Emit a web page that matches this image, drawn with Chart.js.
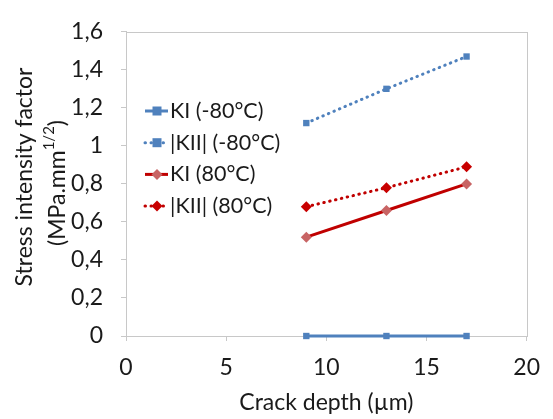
<!DOCTYPE html>
<html>
<head>
<meta charset="utf-8">
<script src="https://cdn.jsdelivr.net/npm/chart.js@4.4.1/dist/chart.umd.min.js"></script>
<style>
  body { margin: 0; background: #fff; }
</style>
</head>
<body>
<canvas id="chart" width="553" height="419"></canvas>
<script>
// crack depth in µm
const depths = [9, 13, 17];
// stress intensity factors, MPa.mm^1/2
const kiCold = [0, 0, 0];
const kiiCold = [1.12, 1.30, 1.47];
const kiHot = [0.52, 0.66, 0.80];
const kiiHot = [0.68, 0.78, 0.89];
const seriesLabels = ["KI (-80°C)", "|KII| (-80°C)", "KI (80°C)", "|KII| (80°C)"];
const xTicks = [0, 5, 10, 15, 20];
const yTicks = [0, 0.2, 0.4, 0.6, 0.8, 1, 1.2, 1.4, 1.6];

const FONT = "Lato";
const TEXT = "#1a1a1a";
const AXIS = "#c8c8c8";

function pts(ys) {
  return depths.map((d, i) => ({ x: d, y: ys[i] }));
}

function comma(v) {
  return String(Number(v.toFixed(1))).replace(".", ",");
}

// draws the gray box round the plot area
const frame = {
  id: "frame",
  beforeDatasetsDraw(chart) {
    const a = chart.chartArea;
    const ctx = chart.ctx;
    ctx.save();
    ctx.strokeStyle = AXIS;
    ctx.lineWidth = 1;
    ctx.strokeRect(Math.round(a.left) + 0.5, Math.round(a.top) + 0.5,
      Math.round(a.right - a.left), Math.round(a.bottom - a.top));
    ctx.restore();
  }
};

function marker(ctx, style, r, x, y, color) {
  ctx.fillStyle = color;
  ctx.beginPath();
  if (style === "rect") {
    ctx.rect(x - r, y - r, 2 * r, 2 * r);
  } else {
    ctx.moveTo(x, y - r);
    ctx.lineTo(x + r, y);
    ctx.lineTo(x, y + r);
    ctx.lineTo(x - r, y);
    ctx.closePath();
  }
  ctx.fill();
}

// legend inside the plot, Excel style
const legendBox = {
  id: "legendBox",
  afterDraw(chart) {
    const ctx = chart.ctx;
    const x0 = 145, y0 = 111, step = 31.7;
    chart.data.datasets.forEach((ds, i) => {
      const y = y0 + i * step;
      ctx.save();
      ctx.strokeStyle = ds.borderColor;
      ctx.lineWidth = ds.borderWidth;
      ctx.lineCap = ds.borderCapStyle || "butt";
      ctx.setLineDash(ds.borderDash || []);
      ctx.beginPath();
      ctx.moveTo(x0, y);
      ctx.lineTo(x0 + 23, y);
      ctx.stroke();
      ctx.setLineDash([]);
      marker(ctx, ds.pointStyle, ds.pointRadius, x0 + 12, y, ds.pointBackgroundColor);
      ctx.fillStyle = TEXT;
      ctx.font = "21.5px " + FONT;
      ctx.textAlign = "left";
      ctx.textBaseline = "middle";
      ctx.fillText(ds.label, x0 + 25, y);
      ctx.restore();
    });
  }
};

// y axis title, two lines with a superscript
const yTitle = {
  id: "yTitle",
  afterDraw(chart) {
    const ctx = chart.ctx;
    ctx.save();
    ctx.fillStyle = TEXT;
    ctx.textBaseline = "middle";
    ctx.font = "23px " + FONT;
    ctx.translate(25, 177);
    ctx.rotate(-Math.PI / 2);
    ctx.textAlign = "center";
    ctx.fillText("Stress intensity factor", 0, 0);
    ctx.restore();

    ctx.save();
    ctx.fillStyle = TEXT;
    ctx.textBaseline = "middle";
    ctx.translate(58, 183);
    ctx.rotate(-Math.PI / 2);
    ctx.textAlign = "left";
    const a = "(MPa.mm", b = "1/2", c = ")";
    ctx.font = "23px " + FONT;
    const wa = ctx.measureText(a).width, wc = ctx.measureText(c).width;
    ctx.font = "15px " + FONT;
    const wb = ctx.measureText(b).width;
    let x = -(wa + wb + wc) / 2;
    ctx.font = "23px " + FONT;
    ctx.fillText(a, x, 0);
    x += wa;
    ctx.font = "15px " + FONT;
    ctx.fillText(b, x, -9);
    x += wb;
    ctx.font = "23px " + FONT;
    ctx.fillText(c, x, 0);
    ctx.restore();
  }
};

new Chart(document.getElementById("chart"), {
  type: "scatter",
  data: {
    datasets: [
      {
        label: seriesLabels[0],
        data: pts(kiCold),
        showLine: true,
        borderColor: "#4f81bd",
        borderWidth: 3,
        pointStyle: "rect",
        pointRadius: 4.5,
        pointBackgroundColor: "#4f81bd",
        pointBorderWidth: 0,
        clip: false
      },
      {
        label: seriesLabels[1],
        data: pts(kiiCold),
        showLine: true,
        borderColor: "#4f81bd",
        borderWidth: 3,
        borderDash: [0.5, 5.5],
        borderCapStyle: "round",
        pointStyle: "rect",
        pointRadius: 4.5,
        pointBackgroundColor: "#4f81bd",
        pointBorderWidth: 0,
        clip: false
      },
      {
        label: seriesLabels[2],
        data: pts(kiHot),
        showLine: true,
        borderColor: "#c00000",
        borderWidth: 3,
        pointStyle: "rectRot",
        pointRadius: 5.5,
        pointBackgroundColor: "#c86464",
        pointBorderWidth: 0,
        clip: false
      },
      {
        label: seriesLabels[3],
        data: pts(kiiHot),
        showLine: true,
        borderColor: "#c00000",
        borderWidth: 3,
        borderDash: [0.5, 5.5],
        borderCapStyle: "round",
        pointStyle: "rectRot",
        pointRadius: 5.5,
        pointBackgroundColor: "#c80000",
        pointBorderWidth: 0,
        clip: false
      }
    ]
  },
  options: {
    responsive: false,
    animation: false,
    layout: { padding: { top: 18, right: 20, left: 0, bottom: 0 } },
    plugins: {
      legend: { display: false },
      tooltip: { enabled: false }
    },
    scales: {
      x: {
        type: "linear",
        min: 0,
        max: 20,
        afterBuildTicks(s) { s.ticks = xTicks.map(v => ({ value: v })); },
        afterFit(s) { s.height = 83; },
        ticks: { color: TEXT, font: { family: FONT, size: 23 }, padding: 13, maxRotation: 0 },
        grid: { drawOnChartArea: false, tickLength: 5, color: AXIS },
        border: { color: AXIS },
        title: {
          display: true,
          text: "Crack depth (µm)",
          color: TEXT,
          font: { family: FONT, size: 23 },
          padding: { top: 0, bottom: 3 }
        }
      },
      y: {
        type: "linear",
        min: 0,
        max: 1.6,
        afterBuildTicks(s) { s.ticks = yTicks.map(v => ({ value: v })); },
        afterFit(s) { s.width = 126; },
        ticks: { color: TEXT, font: { family: FONT, size: 23 }, padding: 18, callback: v => comma(v) },
        grid: { drawOnChartArea: false, tickLength: 5, color: AXIS },
        border: { color: AXIS }
      }
    }
  },
  plugins: [frame, legendBox, yTitle]
});
</script>
</body>
</html>
